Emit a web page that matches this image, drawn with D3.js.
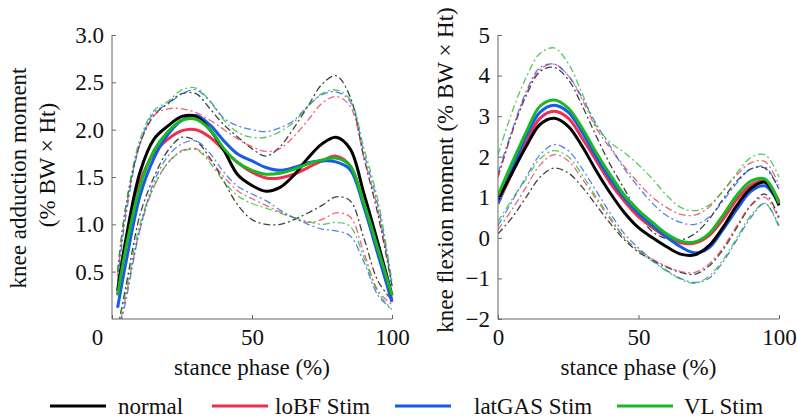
<!DOCTYPE html>
<html><head><meta charset="utf-8">
<script src="https://cdn.jsdelivr.net/npm/d3@7"></script>
<style>body{margin:0;background:#fff}svg{display:block}text{font-family:'Liberation Serif','Times New Roman',Times,'DejaVu Serif','Noto Serif',serif;fill:#111}</style>
</head><body><svg id="c" width="797" height="420"></svg>
<script>
// ---- data ----
const conditions = ["normal", "loBF Stim", "latGAS Stim", "VL Stim"];
const colors = ["#000000", "#ee2f4f", "#1a5ae6", "#18b924"];
const addX = [2,5,10,15,20,25,30,35,40,45,50,55,60,65,70,75,80,85,90,95,100];
const flexX = [0,5,10,15,20,25,30,35,40,45,50,55,60,65,70,75,80,85,90,95,100];
const addTicksY = [0.5,1.0,1.5,2.0,2.5,3.0];
const flexTicksY = [-2,-1,0,1,2,3,4,5];
const ticksX = [0,50,100];

// knee adduction moment
const addMean = [
 [0.3,0.85,1.55,1.9,2.04,2.14,2.14,2.0,1.78,1.52,1.41,1.35,1.39,1.52,1.7,1.85,1.92,1.8,1.32,0.8,0.25],
 [0.25,0.8,1.45,1.75,1.9,1.99,2.0,1.92,1.78,1.65,1.55,1.49,1.49,1.53,1.6,1.67,1.72,1.62,1.2,0.7,0.2],
 [0.12,0.6,1.3,1.7,1.95,2.1,2.15,2.05,1.88,1.74,1.67,1.6,1.57,1.6,1.65,1.67,1.66,1.58,1.18,0.68,0.18],
 [0.25,0.75,1.4,1.78,1.98,2.1,2.11,2.0,1.8,1.65,1.57,1.53,1.54,1.58,1.64,1.68,1.7,1.62,1.22,0.74,0.25]
];
const addUpper = [
 [0.5,1.2,1.85,2.15,2.28,2.38,2.38,2.22,2.05,1.92,1.8,1.72,1.82,2.02,2.25,2.48,2.57,2.35,1.7,1.1,0.35],
 [0.45,1.15,1.85,2.15,2.22,2.22,2.18,2.1,2.0,1.9,1.82,1.77,1.8,1.93,2.1,2.28,2.35,2.25,1.7,1.15,0.35],
 [0.4,1.1,1.85,2.18,2.27,2.38,2.42,2.3,2.12,2.04,2.0,1.98,2.02,2.1,2.25,2.37,2.4,2.3,1.75,1.2,0.35],
 [0.5,1.2,1.9,2.2,2.3,2.42,2.44,2.3,2.1,1.97,1.92,1.92,1.98,2.08,2.25,2.38,2.42,2.32,1.8,1.25,0.4]
];
const addLower = [
 [-0.1,0.35,1.1,1.5,1.78,1.92,1.88,1.7,1.45,1.2,1.05,1.0,1.0,1.05,1.12,1.2,1.29,1.25,0.85,0.4,0.2],
 [-0.15,0.25,0.95,1.4,1.65,1.78,1.8,1.68,1.5,1.35,1.27,1.2,1.13,1.07,1.02,1.05,1.12,1.08,0.7,0.3,0.15],
 [-0.2,0.2,0.95,1.45,1.72,1.85,1.88,1.75,1.55,1.4,1.32,1.25,1.15,1.07,1.0,0.95,0.93,0.88,0.6,0.25,0.1],
 [-0.1,0.3,1.0,1.4,1.65,1.77,1.79,1.65,1.45,1.3,1.22,1.17,1.12,1.07,1.03,1.0,1.02,0.98,0.65,0.28,0.1]
];
// knee flexion moment
const flexMean = [
 [0.95,1.6,2.25,2.8,2.95,2.75,2.25,1.65,1.1,0.62,0.25,0.0,-0.22,-0.4,-0.42,-0.2,0.25,0.8,1.22,1.37,0.8],
 [0.85,1.6,2.35,2.95,3.12,2.95,2.45,1.9,1.35,0.9,0.52,0.25,0.02,-0.12,-0.13,0.05,0.45,0.95,1.3,1.4,0.9],
 [0.85,1.7,2.5,3.1,3.27,3.1,2.6,2.0,1.45,0.98,0.6,0.3,0.02,-0.22,-0.37,-0.25,0.2,0.7,1.15,1.28,0.85],
 [1.05,1.85,2.6,3.25,3.4,3.2,2.7,2.1,1.55,1.05,0.68,0.38,0.1,-0.08,-0.1,0.1,0.55,1.05,1.4,1.45,0.85]
];
const flexUpper = [
 [1.5,2.6,3.5,4.1,4.2,3.9,3.25,2.5,1.8,1.2,0.6,0.15,-0.02,-0.05,0.1,0.45,0.95,1.4,1.7,1.72,1.2],
 [1.5,2.6,3.55,4.15,4.28,4.0,3.4,2.7,2.2,1.75,1.35,1.0,0.75,0.58,0.56,0.75,1.15,1.55,1.85,1.88,1.3],
 [1.6,2.65,3.6,4.2,4.28,4.0,3.45,2.8,2.25,1.7,1.25,0.85,0.55,0.38,0.33,0.5,0.9,1.35,1.7,1.75,1.2],
 [2.05,3.1,3.95,4.55,4.68,4.3,3.55,2.75,2.35,2.1,1.8,1.45,1.05,0.75,0.67,0.8,1.15,1.6,1.98,2.05,1.5]
];
const flexLower = [
 [0.1,0.5,1.0,1.5,1.72,1.6,1.25,0.8,0.35,-0.05,-0.35,-0.55,-0.72,-0.85,-0.9,-0.7,-0.3,0.25,0.8,1.08,0.5],
 [0.2,0.7,1.25,1.8,2.05,1.9,1.45,0.95,0.45,0.0,-0.3,-0.52,-0.7,-0.83,-0.85,-0.65,-0.25,0.3,0.8,1.0,0.45],
 [0.3,0.9,1.5,2.05,2.3,2.15,1.7,1.15,0.6,0.1,-0.25,-0.55,-0.8,-1.0,-1.1,-1.0,-0.6,-0.05,0.5,0.85,0.3],
 [0.4,0.95,1.45,1.95,2.15,2.0,1.55,1.0,0.5,0.0,-0.32,-0.58,-0.82,-1.02,-1.12,-0.95,-0.55,0.0,0.55,0.85,0.25]
];

// ---- drawing ----
const FONT = "'Liberation Serif','Times New Roman',Times,'DejaVu Serif','Noto Serif',serif";
const svg = d3.select("#c").attr("font-family", FONT);
const axisCol = "#666";

function panel(opt){
  const x = d3.scaleLinear().domain([0,100]).range([opt.x0, opt.x1]);
  const y = d3.scaleLinear().domain(opt.yDom).range([319, 35]);
  const g = svg.append("g");
  const clipId = "clip" + opt.id;
  svg.append("clipPath").attr("id", clipId).append("rect")
    .attr("x", opt.x0).attr("y", 20).attr("width", opt.x1 - opt.x0 + 2).attr("height", 319 - 20);
  const lines = g.append("g").attr("clip-path", `url(#${clipId})`);
  const line = d3.line().x((d,i)=>x(opt.xs[i])).y(d=>y(d)).curve(d3.curveCatmullRom.alpha(0.5));
  [opt.upper, opt.lower].forEach(set => set.forEach((vals,k) => {
    lines.append("path").attr("d", line(vals)).attr("fill","none")
      .attr("stroke", colors[k]).attr("stroke-opacity", 0.75).attr("stroke-width", 1.3)
      .attr("stroke-dasharray", "7,3,2,3");
  }));
  [1,2,0,3].forEach(k => {
    lines.append("path").attr("d", line(opt.mean[k])).attr("fill","none")
      .attr("stroke", colors[k]).attr("stroke-width", 3).attr("stroke-linejoin","round");
  });
  const ya = d3.axisLeft(y).tickValues(opt.yTicks).tickSize(-4).tickPadding(8).tickFormat(opt.fmt);
  const yg = g.append("g").attr("transform", `translate(${opt.x0},0)`).call(ya);
  yg.select(".domain").attr("d", `M0,${y(opt.yDom[1])}V319`);
  const xa = d3.axisBottom(x).tickValues(ticksX).tickSize(-4).tickPadding(10).tickFormat(d3.format("d"));
  const xg = g.append("g").attr("transform", `translate(0,319)`).call(xa);
  xg.select(".domain").attr("d", `M${opt.x0},0H${opt.x1}`);
  [yg, xg].forEach(a => {
    a.attr("font-family", FONT).attr("font-size", 23);
    a.selectAll("path,line").attr("stroke", axisCol).attr("stroke-width", 1);
    a.selectAll("text").attr("fill","#111");
  });
  if (opt.shiftZero) xg.selectAll(".tick").filter(d=>d===0).select("text").attr("dx", -15);
  g.append("text").attr("x", (opt.x0+opt.x1)/2).attr("y", 375).attr("text-anchor","middle")
    .attr("font-size", 23).text("stance phase (%)");
}

panel({id:1, x0:112, x1:392, yDom:[0,3], xs:addX, mean:addMean, upper:addUpper, lower:addLower,
  yTicks:addTicksY, fmt:d3.format(".1f"), shiftZero:true});
panel({id:2, x0:498, x1:779, yDom:[-2,5], xs:flexX, mean:flexMean, upper:flexUpper, lower:flexLower,
  yTicks:flexTicksY, fmt:d=> d<0 ? "\u2212"+Math.abs(d) : String(d), shiftZero:false});

svg.append("text").attr("transform","translate(26,178) rotate(-90)").attr("text-anchor","middle")
  .attr("font-size", 23).text("knee adduction moment");
svg.append("text").attr("transform","translate(55,165) rotate(-90)").attr("text-anchor","middle")
  .attr("font-size", 23).text("(% BW \u00d7 Ht)");
svg.append("text").attr("transform","translate(453,170) rotate(-90)").attr("text-anchor","middle")
  .attr("font-size", 23).text("knee flexion moment (% BW \u00d7 Ht)");

const legX = [50, 212, 395, 617];
const legTx = [118, 275, 474, 684];
conditions.forEach((c,i) => {
  svg.append("line").attr("x1", legX[i]).attr("x2", legX[i]+56).attr("y1", 406).attr("y2", 406)
    .attr("stroke", colors[i]).attr("stroke-width", 3);
  svg.append("text").attr("x", legTx[i]).attr("y", 414).attr("font-size", 23).text(c);
});
</script></body></html>
